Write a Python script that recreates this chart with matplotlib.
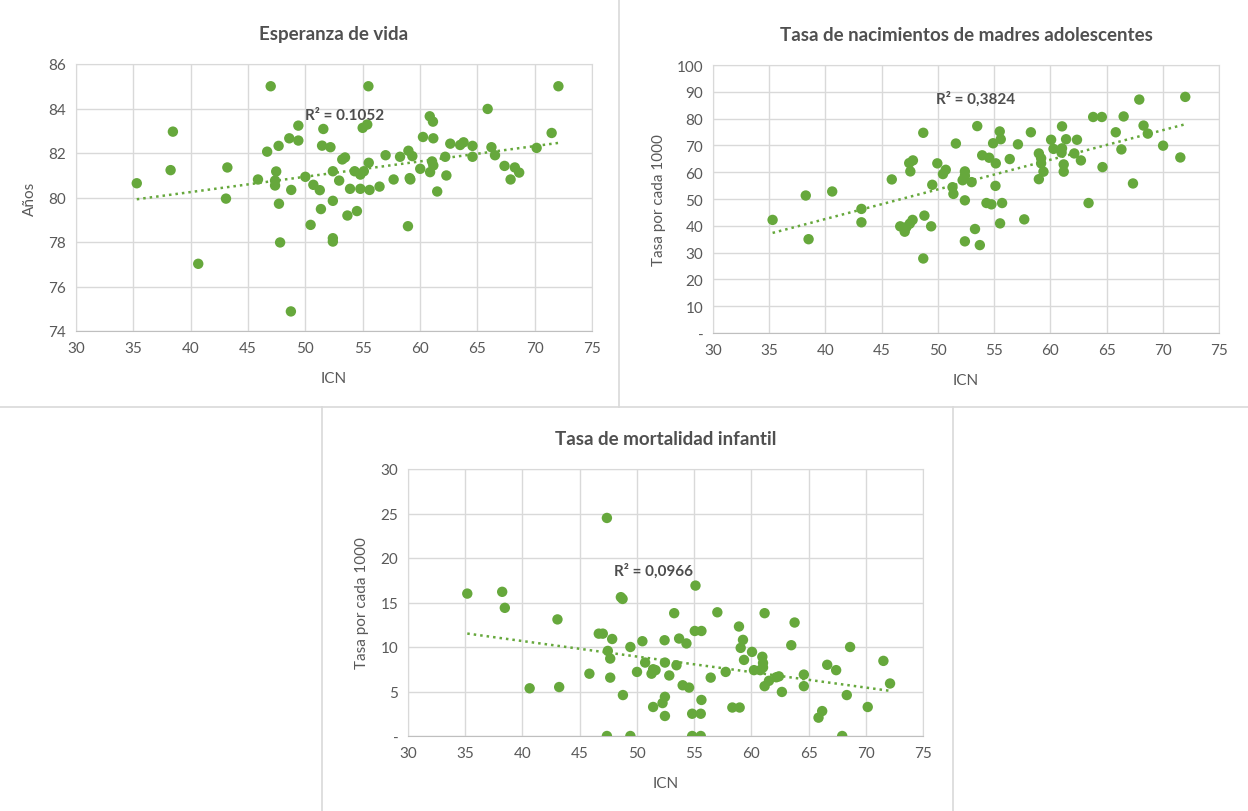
"""Three Excel-style scatter panels: ICN vs life expectancy, teen birth rate, infant mortality."""

import matplotlib

matplotlib.use("Agg")

import matplotlib.pyplot as plt
import numpy as np
from matplotlib.lines import Line2D

plt.rcParams["font.family"] = ["Lato", "DejaVu Sans"]

GREEN = "#66A83C"
TEXT = "#595959"
GRID = "#D9D9D9"

# --- Panel 1: Esperanza de vida -------------------------------------------
icn_vida = [35.3, 38.45, 38.25, 40.66, 43.2, 43.08, 45.87, 46.67, 46.98, 47.46,
            47.36, 47.36, 47.67, 47.7, 47.8, 48.6, 48.77, 48.74, 49.39, 49.39,
            50.0, 50.46, 50.7, 51.26, 51.36, 51.57, 51.46, 52.19, 52.4, 52.4,
            52.4, 52.4, 52.95, 53.22, 53.46, 53.67, 53.9, 54.3, 54.5, 54.8,
            54.8, 55.1, 55.0, 55.4, 55.5, 55.53, 55.6, 56.47, 57.0, 57.7,
            58.26, 58.99, 59.33, 58.95, 59.16, 59.1, 60.02, 60.26, 60.85, 61.13,
            61.16, 61.05, 61.16, 60.88, 61.5, 62.2, 62.3, 62.64, 63.5, 63.8,
            64.58, 64.58, 65.9, 66.23, 66.54, 67.37, 67.9, 68.27, 68.65, 70.17,
            71.48, 72.07]
anios = [80.64, 82.96, 81.23, 77.02, 81.35, 79.95, 80.81, 82.06, 85.0, 81.17,
         80.76, 80.54, 82.32, 79.72, 77.98, 82.66, 80.34, 74.88, 83.23, 82.56,
         80.93, 78.77, 80.57, 80.33, 79.48, 83.08, 82.33, 82.26, 81.18, 79.85,
         78.17, 78.02, 80.76, 81.71, 81.8, 79.19, 80.39, 81.18, 79.39, 80.39,
         81.03, 81.18, 83.13, 83.28, 85.0, 81.56, 80.34, 80.49, 81.9, 80.81,
         81.83, 82.1, 81.86, 78.71, 80.81, 80.87, 81.29, 82.72, 83.65, 83.41,
         82.66, 81.62, 81.44, 81.14, 80.27, 81.83, 80.99, 82.42, 82.36, 82.48,
         82.32, 81.83, 83.98, 82.26, 81.9, 81.42, 80.81, 81.35, 81.12, 82.23,
         82.9, 85.0]

# --- Panel 2: Tasa de nacimientos de madres adolescentes -------------------
icn_nac = [35.3, 38.25, 38.5, 40.6, 43.2, 43.2, 45.9, 46.65, 47.05, 47.2,
           47.5, 47.75, 47.45, 47.78, 47.55, 48.7, 48.8, 48.7, 49.4, 49.5,
           49.95, 50.45, 50.7, 51.3, 51.38, 51.6, 52.4, 52.4, 52.2, 52.4,
           52.4, 53.0, 53.5, 53.3, 53.73, 53.94, 54.56, 55.15, 54.91, 55.5,
           55.59, 56.39, 57.12, 58.27, 55.12, 54.32, 54.76, 55.71, 55.53, 57.68,
           58.98, 59.18, 59.18, 59.39, 58.98, 60.07, 60.28, 61.04, 61.04, 61.0,
           61.4, 61.19, 61.19, 62.37, 62.13, 62.72, 63.4, 63.81, 64.58, 64.64,
           65.82, 66.32, 66.52, 67.35, 67.91, 68.29, 68.67, 70.03, 71.56, 72.0]
nacimientos = [42.2, 51.3, 35.0, 52.8, 46.3, 41.3, 57.3, 39.8, 37.8, 39.5,
               40.8, 42.2, 63.4, 64.4, 60.3, 74.7, 43.8, 27.8, 39.8, 55.3,
               63.3, 59.3, 60.9, 54.4, 51.9, 70.7, 60.3, 58.7, 57.0, 49.5,
               34.2, 56.3, 77.2, 38.8, 32.8, 66.3, 65.4, 63.3, 70.8, 75.2,
               72.3, 64.9, 70.4, 74.9, 54.9, 48.5, 48.0, 48.5, 40.9, 42.4,
               67.0, 65.2, 63.3, 60.2, 57.4, 72.1, 68.7, 77.1, 68.9, 67.3,
               72.3, 62.9, 60.2, 72.1, 67.0, 64.4, 48.5, 80.6, 80.6, 61.9,
               74.9, 68.5, 80.8, 55.8, 87.1, 77.4, 74.4, 69.9, 65.5, 88.1]

# --- Panel 3: Tasa de mortalidad infantil ----------------------------------
icn_mort = [35.18, 38.23, 38.46, 43.06, 40.63, 43.21, 45.85, 46.67, 47.02, 47.38,
            47.46, 47.67, 47.84, 47.67, 47.38, 48.6, 48.75, 48.78, 49.43, 49.43,
            50.01, 50.48, 50.72, 51.28, 51.42, 51.63, 51.42, 52.42, 52.45, 52.45,
            52.24, 52.45, 52.83, 53.26, 53.46, 53.69, 54.33, 54.0, 54.56, 55.12,
            55.06, 55.64, 56.45, 57.03, 57.76, 55.64, 54.83, 55.58, 54.83, 55.58,
            58.34, 58.98, 58.92, 59.27, 59.07, 59.36, 60.06, 60.96, 61.02, 61.02,
            60.78, 60.23, 61.16, 61.16, 61.54, 62.18, 62.41, 62.67, 63.49, 63.78,
            64.59, 64.59, 65.87, 66.19, 66.63, 67.41, 67.94, 68.34, 68.63, 70.17,
            71.54, 72.12]
mortalidad = [16.0, 16.2, 14.4, 13.1, 5.36, 5.5, 7.0, 11.5, 11.5, 24.5,
              9.56, 8.7, 10.9, 6.56, 0.0, 15.6, 15.4, 4.6, 10.0, 0.0,
              7.2, 10.65, 8.25, 7.0, 7.5, 7.4, 3.26, 10.76, 8.25, 4.4,
              3.7, 2.25, 6.8, 13.8, 7.95, 10.95, 10.4, 5.7, 5.44, 16.9,
              11.8, 11.8, 6.56, 13.9, 7.2, 4.05, 2.5, 2.5, 0.0, 0.0,
              3.2, 3.2, 12.3, 10.8, 9.9, 8.55, 9.45, 8.9, 8.2, 7.7,
              7.4, 7.4, 13.8, 5.6, 6.2, 6.6, 6.7, 4.95, 10.2, 12.75,
              6.9, 5.6, 2.06, 2.8, 8.0, 7.4, 0.0, 4.6, 10.0, 3.26,
              8.44, 5.9]


def _panel(fig, rect, x, y, title, ylabel, ylim, ystep, r2_text, r2_pos, dash_zero):
    ax = fig.add_axes(rect)
    ax.set_axisbelow(True)
    ax.scatter(x, y, s=56, color=GREEN, edgecolors="none", zorder=3)

    # Excel-style linear trendline, dotted, spanning the data range.
    slope, intercept = np.polyfit(x, y, 1)
    xl = np.array([min(x), max(x)])
    ax.plot(xl, slope * xl + intercept, color=GREEN, linestyle=(0, (1, 1.6)),
            linewidth=1.8, zorder=2)

    ax.set_xlim(30, 75)
    ax.set_ylim(*ylim)
    ax.set_xticks(np.arange(30, 76, 5))
    yt = np.arange(ylim[0], ylim[1] + ystep / 2, ystep)
    ax.set_yticks(yt)
    labels = [f"{v:g}" for v in yt]
    if dash_zero:
        labels[0] = "-"
    ax.set_yticklabels(labels)
    ax.grid(True, color=GRID, linewidth=1)
    for s in ax.spines.values():
        s.set_color(GRID)
    ax.spines["bottom"].set_color("#BFBFBF")
    ax.tick_params(length=0, colors=TEXT, labelsize=11, pad=7)

    ax.set_title(title, fontsize=13.5, fontweight="bold", color="#505050", pad=18)
    ax.set_xlabel("ICN", fontsize=11, color=TEXT, labelpad=12)
    ax.set_ylabel(ylabel, fontsize=11, color=TEXT, labelpad=8)
    ax.text(r2_pos[0], r2_pos[1], r2_text, fontsize=11, fontweight="bold",
            color="#4D4D4D", ha="left", va="center", zorder=4)
    return ax


fig = plt.figure(figsize=(12.48, 8.12), dpi=100)
W, H = 1248, 812


def rect(x0, y0, x1, y1):
    # pixel box (top-left origin) -> figure fraction
    return [x0 / W, 1 - y1 / H, (x1 - x0) / W, (y1 - y0) / H]


_panel(fig, rect(76, 65, 592, 332), icn_vida, anios, "Esperanza de vida", "Años",
       (74, 86), 2, "R² = 0.1052", (50.0, 83.7), False)
_panel(fig, rect(713, 66, 1219, 334), icn_nac, nacimientos,
       "Tasa de nacimientos de madres adolescentes", "Tasa por cada 1000",
       (0, 100), 10, "R² = 0,3824", (49.8, 87.6), True)
_panel(fig, rect(408, 470, 923, 737), icn_mort, mortalidad,
       "Tasa de mortalidad infantil", "Tasa por cada 1000",
       (0, 30), 5, "R² = 0,0966", (48.0, 18.6), True)

# Faint chart-area frames as in the source screenshot.
for xs, ys in [((0, W), (408, 408)), ((619, 619), (0, 408)),
               ((322, 322), (408, H)), ((953, 953), (408, H))]:
    fig.add_artist(Line2D([x / W for x in xs], [1 - y / H for y in ys],
                          color=GRID, linewidth=1.2))

fig.savefig("out.png", dpi=100, facecolor="white")
